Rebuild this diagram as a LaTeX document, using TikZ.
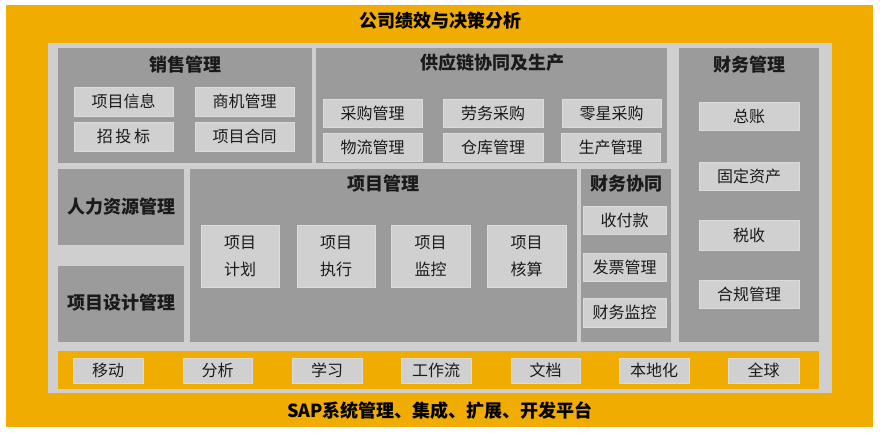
\documentclass[tikz,border=0pt]{standalone}
\usepackage{fontspec}
\setmainfont{Noto Sans CJK SC}
\definecolor{org}{HTML}{F0AC00}
\definecolor{panel}{HTML}{CFCFCF}
\definecolor{modg}{HTML}{9B9B9B}
\definecolor{itemg}{HTML}{D0D0D0}
\definecolor{itemb}{HTML}{DCDCDC}
\definecolor{txt}{HTML}{1A1A1A}
\tikzset{
  base/.style={anchor=north west, inner sep=0pt, outer sep=0pt},
  orangebg/.style={base, fill=org},
  panelbg/.style={base, fill=panel},
  module/.style={base, fill=modg},
  item/.style={base, fill=itemg, draw=itemb, line width=0.8pt, text=txt, font=\fontsize{16}{27}\selectfont, align=center},
  bigtitle/.style={text=black, font=\bfseries\fontsize{18}{20}\selectfont},
  modtitle/.style={text=txt, font=\bfseries\fontsize{18}{20}\selectfont},
}
\newcommand\boxat[7]{\node[#1, minimum width={(#5-#3)*1pt}, minimum height={(#6-#4)*1pt}] (#2) at (#3,#4) {#7};}
\begin{document}
\begin{tikzpicture}[x=1pt,y=-1pt]
\useasboundingbox[fill=white] (0,0) rectangle (880,432);
% backgrounds
\boxat{orangebg}{outer}{6}{5}{873}{427}{}
\boxat{panelbg}{panel}{48}{43}{832}{393}{}
% titles
\node[bigtitle] (ttop) at (440,21) {公司绩效与决策分析};
\node[bigtitle] (tbot) at (440,411) {SAP系统管理、集成、扩展、开发平台};
% sales
\boxat{module}{sales}{58}{48}{312}{163}{}
\node[modtitle] (tsales) at (185,65) {销售管理};
\boxat{item}{s1}{74}{87}{173}{116}{项目信息}
\boxat{item}{s2}{195}{87}{294}{116}{商机管理}
\boxat{item}{s3}{74}{122}{173}{151}{招\,投\,标}
\boxat{item}{s4}{195}{122}{294}{151}{项目合同}
% supply chain
\boxat{module}{supply}{316}{48}{667}{163}{}
\node[modtitle] (tsupply) at (492,63) {供应链协同及生产};
\boxat{item}{c1}{323}{99}{422}{127}{采购管理}
\boxat{item}{c2}{443}{99}{543}{127}{劳务采购}
\boxat{item}{c3}{562}{99}{661}{127}{零星采购}
\boxat{item}{c4}{323}{133}{422}{161}{物流管理}
\boxat{item}{c5}{443}{133}{543}{161}{仓库管理}
\boxat{item}{c6}{561}{133}{660}{161}{生产管理}
% finance management
\boxat{module}{fin}{679}{48}{819}{342}{}
\node[modtitle] (tfin) at (749,65) {财务管理};
\boxat{item}{f1}{699}{102}{799}{130}{总账}
\boxat{item}{f2}{699}{162}{799}{190}{固定资产}
\boxat{item}{f3}{699}{220}{799}{250}{税收}
\boxat{item}{f4}{699}{280}{799}{308}{合规管理}
% HR
\boxat{module}{hr}{58}{169}{184}{245}{}
\node[modtitle] (thr) at (121,207) {人力资源管理};
\boxat{module}{pd}{58}{266}{184}{342}{}
\node[modtitle] (tpd) at (121,303) {项目设计管理};
% project management
\boxat{module}{pm}{190}{169}{577}{342}{}
\node[modtitle] (tpm) at (383,184) {项目管理};
\boxat{item}{p1}{201}{225}{279}{287}{项目\\计划}
\boxat{item}{p2}{297}{225}{375}{287}{项目\\执行}
\boxat{item}{p3}{391}{225}{470}{287}{项目\\监控}
\boxat{item}{p4}{487}{225}{566}{287}{项目\\核算}
% finance collaboration
\boxat{module}{fc}{581}{169}{671}{342}{}
\node[modtitle] (tfc) at (626,184) {财务协同};
\boxat{item}{fc1}{583}{206}{666}{234}{收付款}
\boxat{item}{fc2}{583}{253}{666}{281}{发票管理}
\boxat{item}{fc3}{583}{298}{666}{327}{财务监控}
% bottom bar
\boxat{orangebg}{bar}{58}{351}{819}{389}{}
\boxat{item}{b1}{73}{358}{143}{383}{移动}
\boxat{item}{b2}{183}{358}{252}{383}{分析}
\boxat{item}{b3}{292}{358}{362}{383}{学习}
\boxat{item}{b4}{401}{358}{471}{383}{工作流}
\boxat{item}{b5}{511}{358}{580}{383}{文档}
\boxat{item}{b6}{619}{358}{689}{383}{本地化}
\boxat{item}{b7}{728}{358}{799}{383}{全球}
\end{tikzpicture}
\end{document}
